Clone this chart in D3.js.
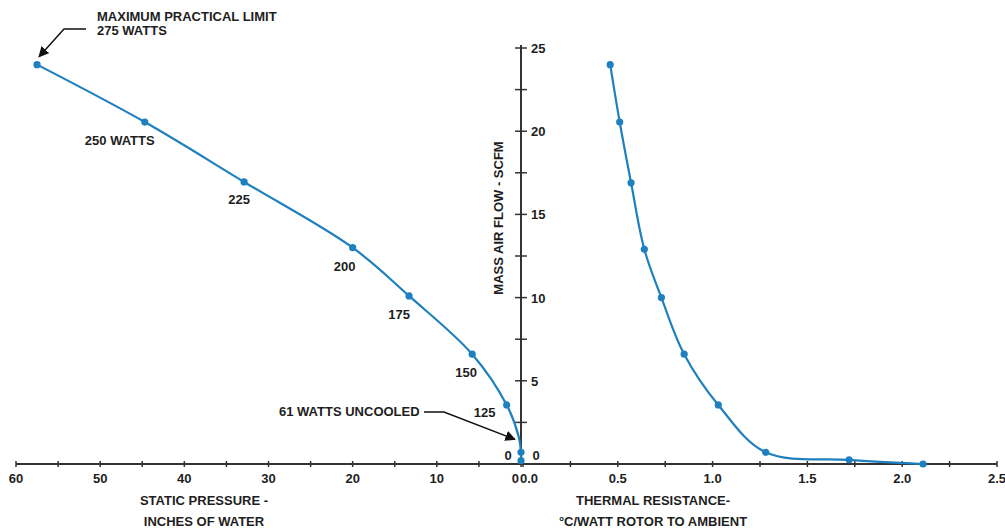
<!DOCTYPE html>
<html><head><meta charset="utf-8">
<script src="https://cdn.jsdelivr.net/npm/d3@7"></script>
<style>
html,body{margin:0;padding:0;background:#fff;}
svg text{font-family:"Liberation Sans Narrow","Arial Narrow","Liberation Sans",Arial,sans-serif;fill:#1e1e1e;font-size:13px;font-weight:bold;}
</style></head>
<body><svg id="c" width="1005" height="531"></svg>
<script>
// Left panel: static pressure vs mass air flow
const pressure = [57.5, 44.7, 32.9, 20.0, 13.3, 5.8, 1.7, 0.25, 0, 0];
const flowLeft = [24.0, 20.55, 16.95, 13.0, 10.1, 6.6, 3.55, 1.6, 0.7, 0.2];
const markedLeft = [1,1,1,1,1,1,1,0,1,1];
const wattLabels = ["", "250 WATTS", "225", "200", "175", "150", "125", "", "", ""];
// Right panel: thermal resistance vs mass air flow
const resistance = [0.46, 0.51, 0.57, 0.64, 0.73, 0.85, 1.03, 1.28, 1.72, 2.11];
const flowRight = [24.0, 20.55, 16.9, 12.9, 10.0, 6.6, 3.55, 0.7, 0.25, 0.0];
// Axis ticks
const leftTickLabels = [60, 50, 40, 30, 20, 10, 0];
const rightTickLabels = [0.0, 0.5, 1.0, 1.5, 2.0, 2.5];
const flowTickLabels = [5, 10, 15, 20, 25];

const svg = d3.select("#c");
const xL = d3.scaleLinear().domain([60, 0]).range([16, 521]);
const xR = d3.scaleLinear().domain([0, 2.5]).range([523, 997]);
const y = d3.scaleLinear().domain([0, 25]).range([464, 48]);
const blue = "#1f80c0", ink = "#333";

// horizontal axis line
svg.append("line").attr("x1", xL(60)).attr("x2", xR(2.5)).attr("y1", y(0)).attr("y2", y(0))
  .attr("stroke", ink).attr("stroke-width", 2);
// vertical axis line
svg.append("line").attr("x1", 521).attr("x2", 521).attr("y1", y(25) - 3).attr("y2", y(0))
  .attr("stroke", ink).attr("stroke-width", 2);

// left x ticks
const lt = d3.range(0, 61, 5);
svg.selectAll(".lt").data(lt).join("line")
  .attr("x1", d => xL(d)).attr("x2", d => xL(d)).attr("y1", y(0) - 3).attr("y2", y(0) + 3)
  .attr("stroke", ink).attr("stroke-width", 1.5);
svg.selectAll(".ltl").data(leftTickLabels).join("text")
  .attr("x", d => d === 0 ? 519 : xL(d)).attr("y", 483)
  .attr("text-anchor", d => d === 0 ? "end" : "middle").text(d => d);
// right x ticks
const rt = d3.range(0, 2.51, 0.25);
svg.selectAll(".rt").data(rt).join("line")
  .attr("x1", d => xR(d)).attr("x2", d => xR(d)).attr("y1", y(0) - 3).attr("y2", y(0) + 3)
  .attr("stroke", ink).attr("stroke-width", 1.5);
svg.selectAll(".rtl").data(rightTickLabels).join("text")
  .attr("x", d => d === 0 ? 520 : xR(d)).attr("y", 483)
  .attr("text-anchor", d => d === 0 ? "start" : "middle").text(d => d.toFixed(1));
// y ticks
const yt = d3.range(2.5, 25.01, 2.5);
svg.selectAll(".yt").data(yt).join("line")
  .attr("x1", 515).attr("x2", 527).attr("y1", d => y(d)).attr("y2", d => y(d))
  .attr("stroke", ink).attr("stroke-width", 1.5);
svg.selectAll(".ytl").data(flowTickLabels).join("text")
  .attr("x", 531).attr("y", d => y(d) + 5).text(d => d);
svg.append("text").attr("x", 508).attr("y", 460).attr("text-anchor", "middle").text("0");
svg.append("text").attr("x", 536).attr("y", 460).attr("text-anchor", "middle").text("0");

// axis titles
svg.append("text").attr("transform", "translate(503,218) rotate(-90)").attr("text-anchor", "middle").text("MASS AIR FLOW - SCFM");
svg.append("text").attr("x", 204).attr("y", 505).attr("text-anchor", "middle").text("STATIC PRESSURE -");
svg.append("text").attr("x", 204).attr("y", 526).attr("text-anchor", "middle").text("INCHES OF WATER");
svg.append("text").attr("x", 653).attr("y", 505).attr("text-anchor", "middle").text("THERMAL RESISTANCE-");
svg.append("text").attr("x", 653).attr("y", 526).attr("text-anchor", "middle").text("°C/WATT ROTOR TO AMBIENT");

// curves
const leftPts = pressure.map((p, i) => ({x: xL(p), y: y(flowLeft[i]), m: markedLeft[i], lab: wattLabels[i]}));
const rightPts = resistance.map((r, i) => ({x: xR(r), y: y(flowRight[i])}));
const line = d3.line().x(d => d.x).y(d => d.y).curve(d3.curveCatmullRom.alpha(0.5));
svg.append("path").attr("d", line(leftPts)).attr("fill", "none").attr("stroke", blue).attr("stroke-width", 2.2);
svg.append("path").attr("d", line(rightPts)).attr("fill", "none").attr("stroke", blue).attr("stroke-width", 2.2);
svg.selectAll(".ml").data(leftPts.filter(d => d.m)).join("circle")
  .attr("cx", d => d.x).attr("cy", d => d.y).attr("r", 3.6).attr("fill", blue);
svg.selectAll(".mr").data(rightPts).join("circle")
  .attr("cx", d => d.x).attr("cy", d => d.y).attr("r", 3.6).attr("fill", blue);

// watt labels
const labOff = {"250 WATTS": [-25, 23], "225": [-5, 22], "200": [-8, 23], "175": [-10, 23], "150": [-6, 23], "125": [-22, 12]};
svg.selectAll(".wl").data(leftPts.filter(d => d.lab)).join("text")
  .attr("x", d => d.x + labOff[d.lab][0]).attr("y", d => d.y + labOff[d.lab][1])
  .attr("text-anchor", "middle").text(d => d.lab);

// annotations
svg.append("defs").append("marker").attr("id", "ah").attr("viewBox", "0 0 10 10")
  .attr("refX", 9).attr("refY", 5).attr("markerWidth", 7).attr("markerHeight", 7).attr("orient", "auto-start-reverse")
  .append("path").attr("d", "M0,0 L10,5 L0,10 z").attr("fill", "#111");
svg.append("text").attr("x", 97).attr("y", 21).text("MAXIMUM PRACTICAL LIMIT");
svg.append("text").attr("x", 97).attr("y", 35).text("275 WATTS");
svg.append("path").attr("d", `M86,29 L64,29 L${leftPts[0].x + 2},${leftPts[0].y - 8}`)
  .attr("fill", "none").attr("stroke", "#111").attr("stroke-width", 1.5).attr("marker-end", "url(#ah)");
svg.append("text").attr("x", 279).attr("y", 416).text("61 WATTS UNCOOLED");
svg.append("path").attr("d", `M424,412 L444,412 L${leftPts[7].x - 4},${leftPts[7].y + 2}`)
  .attr("fill", "none").attr("stroke", "#111").attr("stroke-width", 1.5).attr("marker-end", "url(#ah)");
</script></body></html>
